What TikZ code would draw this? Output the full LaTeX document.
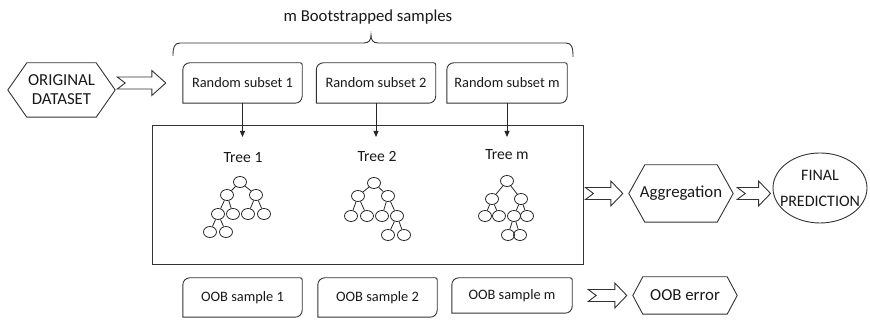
\documentclass[tikz,border=0pt]{standalone}
\usepackage{fontspec}
\setmainfont{Carlito}
\usetikzlibrary{arrows.meta,calc,positioning,shapes.geometric}

\tikzset{
  linea/.style={draw=black!80, line width=0.9pt},
  riquadro/.style={minimum width=119pt, minimum height=40pt, inner sep=0pt, font=\fontsize{14.4}{17}\selectfont},
  esag/.style={minimum width=104pt, minimum height=57pt, inner sep=0pt, align=center, font=\fontsize{16.8}{19}\selectfont},
  nodo/.style={ellipse, draw=black!85, line width=0.8pt, minimum width=13pt, minimum height=11pt, inner sep=0pt},
  ramo/.style={draw=black!85, line width=0.8pt},
  freccia/.style={draw=black!85, line width=0.8pt, -{Triangle[length=6pt,width=5pt]}},
  etichetta/.style={font=\fontsize{15.6}{18}\selectfont},
}

% riquadro con due angoli arrotondati
\newcommand{\bordobox}[1]{%
  \draw[linea] ([yshift=-7pt]#1.north west) arc[start angle=180,end angle=90,radius=7pt]
    -- ([xshift=-2pt]#1.north east) arc[start angle=90,end angle=0,radius=2pt]
    -- ([yshift=7pt]#1.south east) arc[start angle=0,end angle=-90,radius=7pt]
    -- (#1.south west) -- cycle;}
% esagono schiacciato: #2 = profondita' della punta
\newcommand{\esagono}[2]{%
  \draw[linea] (#1.west) -- ([xshift=#2]#1.north west) -- ([xshift=-#2]#1.north east)
    -- (#1.east) -- ([xshift=-#2]#1.south east) -- ([xshift=#2]#1.south west) -- cycle;}
% freccia vuota con coda intagliata: #1 coda, #2 punta, #3 lunghezza testa
\newcommand{\frecciavuota}[3]{%
  \draw[linea, line join=miter] ($(#1)+(0,6)$) -- ($(#2)+(-#3,6)$) -- ($(#2)+(-#3,12.5)$) -- (#2)
    -- ($(#2)+(-#3,-12.5)$) -- ($(#2)+(-#3,-6)$) -- ($(#1)+(0,-6)$) -- ($(#1)+(8,0)$) -- cycle;}

\begin{document}
\begin{tikzpicture}[x=1pt, y=1pt, text=black!90]
\useasboundingbox (0,0) rectangle (870,320);
% Titolo e graffa
\node[font=\fontsize{16.7}{20}\selectfont] (titolo) at (368,303) {m Bootstrapped samples};
\draw[linea] (173,264) .. controls (173,272) and (174,277) .. (180,277) -- (364,277)
  .. controls (369,277) and (371,280) .. (371,285) .. controls (371,280) and (373,277) .. (378,277)
  -- (566,277) .. controls (572,277) and (573,272) .. (573,263);
% Dataset di partenza
\node[esag, minimum width=107pt, minimum height=54pt] (dataset) at (61.5,230) {ORIGINAL\\DATASET};
\esagono{dataset}{19pt}
% Sottoinsiemi casuali
\node[riquadro] (sub1) at (242.5,237) {Random subset 1};
\node[riquadro] (sub2) at (376,237) {Random subset 2};
\node[riquadro, minimum width=120pt] (subm) at (507,237) {Random subset m};
\foreach \s in {sub1,sub2,subm} {\bordobox{\s}}
% Riquadro della foresta
\node[linea, minimum width=431pt, minimum height=139pt] (foresta) at (367.5,125.5) {};
% Etichette alberi
\node[etichetta] (t1) at (243,162) {Tree 1};
\node[etichetta] (t2) at (377,164) {Tree 2};
\node[etichetta] (tm) at (507,165) {Tree m};
\coordinate (p1) at (242.5,183);
\coordinate (p2) at (376,183);
\coordinate (pm) at (507,183);
\draw[freccia] (sub1.south) -- (p1);
\draw[freccia] (sub2.south) -- (p2);
\draw[freccia] (subm.south) -- (pm);
% Albero 1
\node[nodo] (ar) at (240,138) {};
\node[nodo] (aa) at (227,125) {}; \node[nodo] (ab) at (256,125) {};
\node[nodo] (aaa) at (218,106) {}; \node[nodo] (aab) at (233,106) {};
\node[nodo] (aba) at (248,106) {}; \node[nodo] (abb) at (264,106) {};
\node[nodo] (aaaa) at (210,88) {}; \node[nodo] (aaab) at (226,88) {};
\foreach \p/\f in {ar/aa,ar/ab,aa/aaa,aa/aab,ab/aba,ab/abb,aaa/aaaa,aaa/aaab} \draw[ramo] (\p) -- (\f);
% Albero 2
\node[nodo] (br) at (374,137) {};
\node[nodo] (ba) at (358,124) {}; \node[nodo] (bb) at (388,124) {};
\node[nodo] (baa) at (351,104) {}; \node[nodo] (bab) at (367,104) {};
\node[nodo] (bba) at (382,104) {}; \node[nodo] (bbb) at (397,104) {};
\node[nodo] (bbba) at (388,85) {}; \node[nodo] (bbbb) at (404,85) {};
\foreach \p/\f in {br/ba,br/bb,ba/baa,ba/bab,bb/bba,bb/bbb,bbb/bbba,bbb/bbbb} \draw[ramo] (\p) -- (\f);
% Albero m
\node[nodo] (mr) at (507,139) {};
\node[nodo] (ma) at (492,121) {}; \node[nodo] (mb) at (521,121) {};
\node[nodo] (maa) at (485,104) {}; \node[nodo] (mab) at (499,104) {};
\node[nodo] (mba) at (514,104) {}; \node[nodo] (mbb) at (527,104) {};
\node[nodo] (mbaa) at (508,85) {}; \node[nodo] (mbab) at (520,85) {};
\foreach \p/\f in {mr/ma,mr/mb,ma/maa,ma/mab,mb/mba,mb/mbb,mba/mbaa,mba/mbab} \draw[ramo] (\p) -- (\f);
% Aggregazione e predizione finale
\node[esag] (aggr) at (681,126.5) {Aggregation};
\esagono{aggr}{16pt}
\node[linea, ellipse, minimum width=94pt, minimum height=70pt, inner sep=0pt] (finale) at (820,132) {};
\node[align=center, font=\fontsize{16}{26}\selectfont] (testofin) at (finale) {FINAL\\PREDICTION};
% Campioni OOB
\node[riquadro, minimum height=39pt] (oob1) at (242.5,22.5) {OOB sample 1};
\node[riquadro, minimum height=39pt] (oob2) at (377.5,22.5) {OOB sample 2};
\node[riquadro, minimum width=120pt, minimum height=35pt] (oobm) at (512,24.5) {OOB sample m};
\foreach \s in {oob1,oob2,oobm} {\bordobox{\s}}
\node[esag, minimum height=37pt] (ooberr) at (685,24.5) {OOB error};
\esagono{ooberr}{10pt}
% Frecce vuote
\coordinate (f1a) at ($(dataset.east |- sub1)+(2,0)$);
\coordinate (f1b) at ($(sub1.west)+(-17,0)$);
\coordinate (f2a) at ($(foresta.east |- aggr)+(2,0)$);
\coordinate (f2b) at ($(aggr.west)+(-6,0)$);
\coordinate (f3a) at ($(aggr.east)+(4,0)$);
\coordinate (f3b) at ($(finale.west |- aggr)+(-2,0)$);
\coordinate (f4a) at ($(oobm.east)+(16,0)$);
\coordinate (f4b) at ($(ooberr.west)+(-6,0)$);
\frecciavuota{f1a}{f1b}{14}
\frecciavuota{f2a}{f2b}{12}
\frecciavuota{f3a}{f3b}{12}
\frecciavuota{f4a}{f4b}{12}
\end{tikzpicture}
\end{document}
